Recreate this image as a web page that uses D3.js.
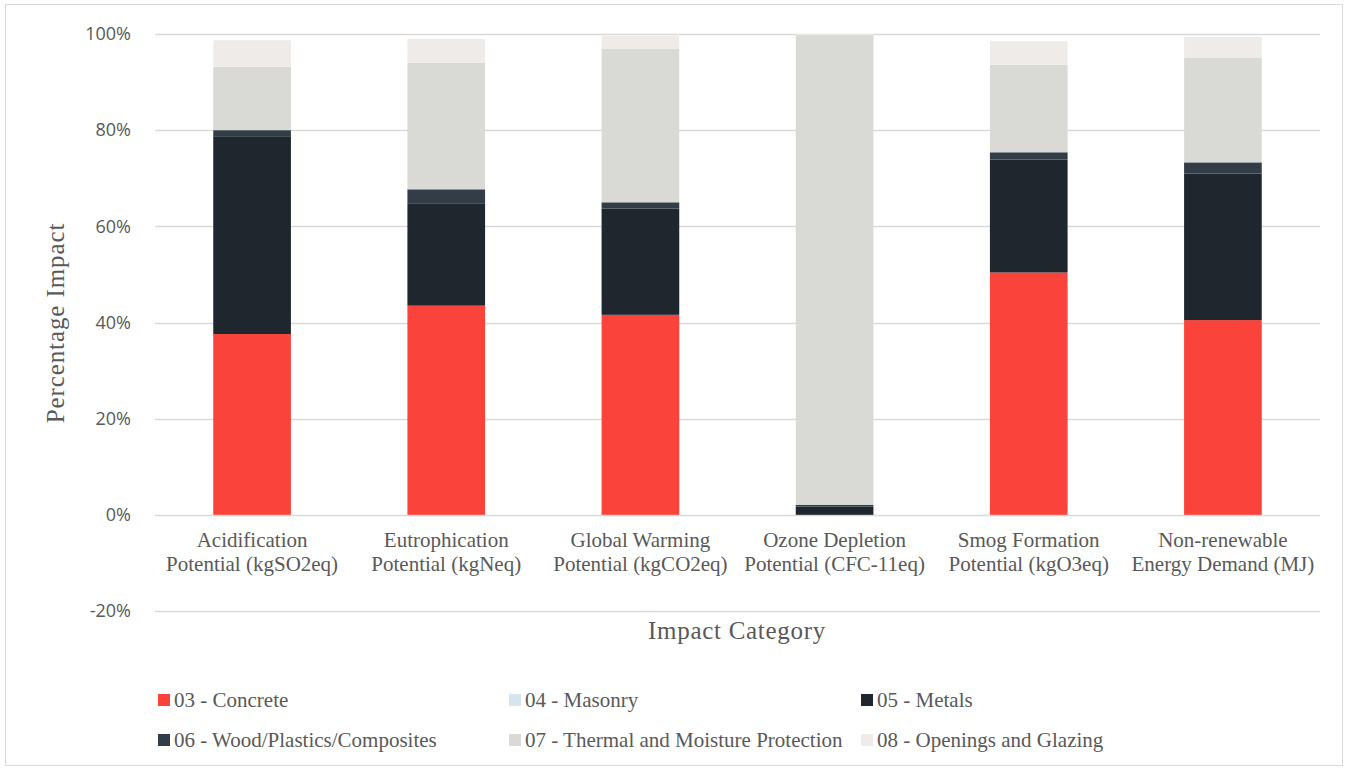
<!DOCTYPE html>
<html><head><meta charset="utf-8">
<script src="https://cdn.jsdelivr.net/npm/d3@7"></script>
<style>body{margin:0;background:#fff}svg{display:block}</style>
</head><body>
<script>
const categories = [
  ["Acidification", "Potential (kgSO2eq)"],
  ["Eutrophication", "Potential (kgNeq)"],
  ["Global Warming", "Potential (kgCO2eq)"],
  ["Ozone Depletion", "Potential (CFC-11eq)"],
  ["Smog Formation", "Potential (kgO3eq)"],
  ["Non-renewable", "Energy Demand (MJ)"]
];
const seriesNames = ["03 - Concrete","04 - Masonry","05 - Metals","06 - Wood/Plastics/Composites","07 - Thermal and Moisture Protection","08 - Openings and Glazing"];
const concrete = [37.6, 43.5, 41.6, 0.0, 50.4, 40.5];
const masonry  = [0.0, 0.0, 0.0, 0.0, 0.0, 0.0];
const metals   = [41.0, 21.3, 22.1, 1.7, 23.5, 30.5];
const wood     = [1.4, 2.9, 1.3, 0.4, 1.5, 2.3];
const thermal  = [13.2, 26.3, 31.9, 97.7, 18.2, 21.7];
const openings = [5.5, 5.0, 2.7, 0.2, 4.9, 4.4];
const yTicks = [-20, 0, 20, 40, 60, 80, 100];
const colors = ["#FA433A","#D6E4EE","#1F262D","#333D47","#D9D9D5","#EFEBE8"];

const seriesValues = [concrete, masonry, metals, wood, thermal, openings];
const W = 1348, H = 770;
const svg = d3.select("body").append("svg").attr("width", W).attr("height", H);
svg.append("rect").attr("x",5.5).attr("y",4.5).attr("width",1337).attr("height",761)
  .attr("fill","#fff").attr("stroke","#D9D9D9").attr("stroke-width",1);

const x = d3.scaleBand().domain(d3.range(categories.length)).range([155, 1320]).paddingInner(0.6).paddingOuter(0.3);
const y = d3.scaleLinear().domain([-20, 100]).range([611, 34]);

// gridlines
svg.append("g").selectAll("line").data(yTicks).join("line")
  .attr("x1",155).attr("x2",1320).attr("y1",d=>Math.round(y(d))+0.5).attr("y2",d=>Math.round(y(d))+0.5)
  .attr("stroke","#D9D9D9").attr("stroke-width",1.3);

// y tick labels
svg.append("g").selectAll("text").data(yTicks).join("text")
  .attr("x",131).attr("y",d=>y(d)).attr("dy","0.35em").attr("text-anchor","end")
  .attr("font-family","'Open Sans', sans-serif").attr("font-size",18).attr("fill","#595959")
  .text(d=>d+"%");

// stacked bars
const data = categories.map((c,i)=>{const o={i}; seriesNames.forEach((s,k)=>o[s]=seriesValues[k][i]); return o;});
const stack = d3.stack().keys(seriesNames)(data);
svg.append("g").selectAll("g").data(stack).join("g").attr("fill",(d,k)=>colors[k])
  .selectAll("rect").data(d=>d).join("rect")
  .attr("x",d=>x(d.data.i)).attr("width",x.bandwidth())
  .attr("y",d=>y(d[1])).attr("height",d=>Math.max(0,y(d[0])-y(d[1])));

// category labels
const cl = svg.append("g").selectAll("text").data(categories).join("text")
  .attr("x",(d,i)=>x(i)+x.bandwidth()/2).attr("y",547).attr("text-anchor","middle")
  .attr("font-family","'Liberation Serif', serif").attr("font-size",21).attr("fill","#595959");
cl.selectAll("tspan").data(d=>d).join("tspan")
  .attr("x",function(){return this.parentNode.getAttribute("x");})
  .attr("dy",(d,j)=>j===0?0:24).text(d=>d);

// axis titles
svg.append("text").attr("x",737).attr("y",639).attr("text-anchor","middle")
  .attr("font-family","'Liberation Serif', serif").attr("font-size",25).attr("letter-spacing",0.7)
  .attr("fill","#595959").text("Impact Category");
svg.append("text").attr("transform","translate(64,323) rotate(-90)").attr("text-anchor","middle")
  .attr("font-family","'Liberation Serif', serif").attr("font-size",25).attr("letter-spacing",0.9)
  .attr("fill","#595959").text("Percentage Impact");

// legend
const legX = [158, 509, 861];
const legY = [700, 740];
const lg = svg.append("g").selectAll("g").data(seriesNames).join("g")
  .attr("transform",(d,k)=>`translate(${legX[k%3]},${legY[Math.floor(k/3)]})`);
lg.append("rect").attr("x",0).attr("y",-6).attr("width",12).attr("height",12).attr("fill",(d,k)=>colors[k]);
lg.append("text").attr("x",16).attr("y",0).attr("dy","0.35em")
  .attr("font-family","'Liberation Serif', serif").attr("font-size",21).attr("fill","#595959").text(d=>d);
</script>
</body></html>
